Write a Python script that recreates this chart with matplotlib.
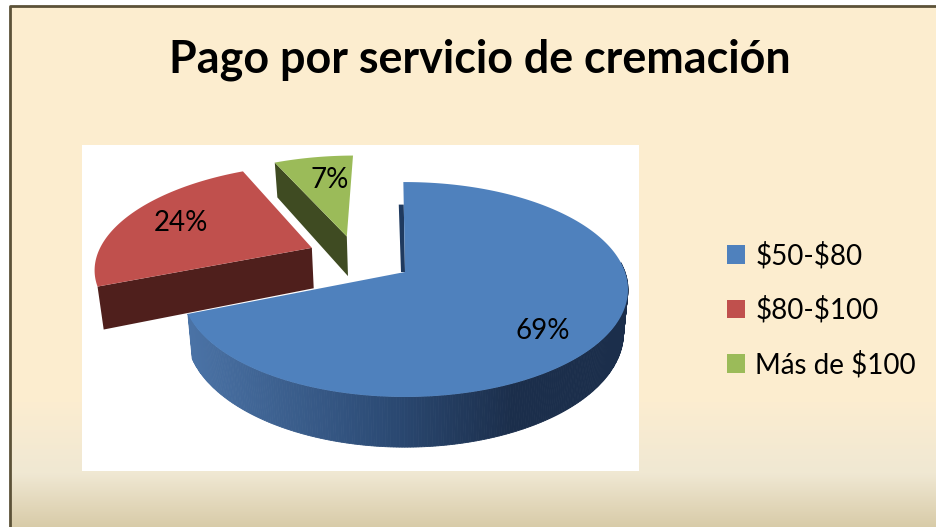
import numpy as np
import matplotlib.pyplot as plt
from matplotlib.patches import Patch, Polygon, Rectangle

# Datos del gráfico
categorias = ['$50-$80', '$80-$100', 'Más de $100']
porcentajes = [69, 24, 7]
etiquetas = ['69%', '24%', '7%']
titulo = 'Pago por servicio de cremación'

colores = ['#4f81bd', '#c0504d', '#9bbb59']
colores_lado = ['#2f4f7a', '#4f1f1c', '#3f4b22']

# Geometria del pastel (pixeles de la imagen)
cx, cy = 405, 272
rx, ry = 220, 104.6
k = 0.163      # perspectiva
prof = 42      # grosor
inicio = -0.5
desplazar = [(0, 0), (-0.44, 0.24), (-0.28, 0.36)]
pos_etiquetas = [(543, 331), (181, 223), (330, 180)]

plt.rcParams['font.family'] = ['Lato', 'DejaVu Sans']
plt.rcParams['text.parse_math'] = False


def proyectar(u, v, abajo=False):
    s = 1 + k * v
    x = cx + rx * u / s
    y = cy - ry * v / s
    if abajo:
        y = y + prof / s
        x = x + (cx - x) * 0.02
    return np.column_stack([x, y])


def borde(a1, a2, d):
    t = np.radians(np.linspace(a1, a2, 400))
    return np.sin(t) + d[0], np.cos(t) + d[1]


fig = plt.figure(figsize=(9.36, 5.27), dpi=100)
ax = fig.add_axes([0, 0, 1, 1])
ax.axis('off')

# Fondo con degradado
ys = np.arange(527)
paradas_y = [0, 400, 472, 527]
paradas_c = np.array([[253, 238, 207], [252, 237, 208], [240, 232, 211], [216, 203, 168]]) / 255
fondo = np.stack([np.interp(ys, paradas_y, paradas_c[:, i]) for i in range(3)], axis=1)[:, None, :]
ax.imshow(fondo, extent=[10, 936, 527, 6], aspect='auto', zorder=0)
ax.set_xlim(0, 936)
ax.set_ylim(527, 0)
ax.plot([10, 10, 936], [527, 6, 6], color='#5c5238', lw=2, zorder=1)

ax.add_patch(Rectangle((82, 145), 557, 326, color='white', lw=0, zorder=1))

# Angulos de cada porcion a partir de los valores
fin = inicio + np.cumsum(porcentajes) * 3.6
ini = np.r_[inicio, fin[:-1]]

# Porciones separadas: roja y verde
for i in [2, 1]:
    d = desplazar[i]
    u, v = borde(ini[i], fin[i], d)
    ap = (d[0], d[1])
    esq = (u[0], v[0])
    lado = np.vstack([proyectar(*esq), proyectar(*ap), proyectar(*ap, abajo=True), proyectar(*esq, abajo=True)])
    ax.add_patch(Polygon(lado, color=colores_lado[i], lw=0, zorder=2))
    arriba = np.vstack([proyectar(*ap), proyectar(u, v)])
    ax.add_patch(Polygon(arriba, color=colores[i], lw=0, zorder=3))

# Porcion azul: lado con degradado
u, v = borde(ini[0], fin[0], desplazar[0])
p1 = proyectar(u, v)
p2 = proyectar(u, v, abajo=True)
c_izq = np.array([0x4a, 0x72, 0xa5]) / 255
c_med = np.array([0x2c, 0x4b, 0x75]) / 255
c_der = np.array([0x1b, 0x2e, 0x4b]) / 255
for j in range(len(u) - 1):
    if v[j] > 0.1:
        continue
    x = p1[j, 0]
    t = (x - 192) / 430
    if t < 0.45:
        col = c_izq + (c_med - c_izq) * t / 0.45
    else:
        col = c_med + (c_der - c_med) * min((t - 0.45) / 0.3, 1)
    ax.add_patch(Polygon([p1[j], p1[j + 1], p2[j + 1], p2[j]], facecolor=col, edgecolor=col, lw=0.6, zorder=4))

# Cara interior que apenas se ve
ap = proyectar(0, 0)[0]
cima = proyectar(u[0] * 0.72, v[0] * 0.72)[0]
ax.add_patch(Polygon([ap, cima, cima + [-5, 0], ap + [-4, 0]], color='#1f3a5f', lw=0, zorder=4))

ax.add_patch(Polygon(np.vstack([proyectar(0, 0), p1]), color=colores[0], lw=0, zorder=5))

# Etiquetas
for (x, y), t in zip(pos_etiquetas, etiquetas):
    ax.text(x, y, t, ha='center', va='center', fontsize=20, color='black', zorder=6)

ax.text(480, 60, titulo, ha='center', va='center', fontsize=32.3, fontweight='bold', color='black', zorder=6)

# Leyenda
manejadores = [Patch(facecolor=c, edgecolor='none') for c in colores]
ax.legend(manejadores, categorias, loc='center left', bbox_to_anchor=(727, 310), bbox_transform=ax.transData,
          frameon=False, fontsize=20, handlelength=0.66, handleheight=0.66, handletextpad=0.36,
          labelspacing=0.97, borderpad=0, borderaxespad=0)

fig.savefig('out.png', dpi=100)
